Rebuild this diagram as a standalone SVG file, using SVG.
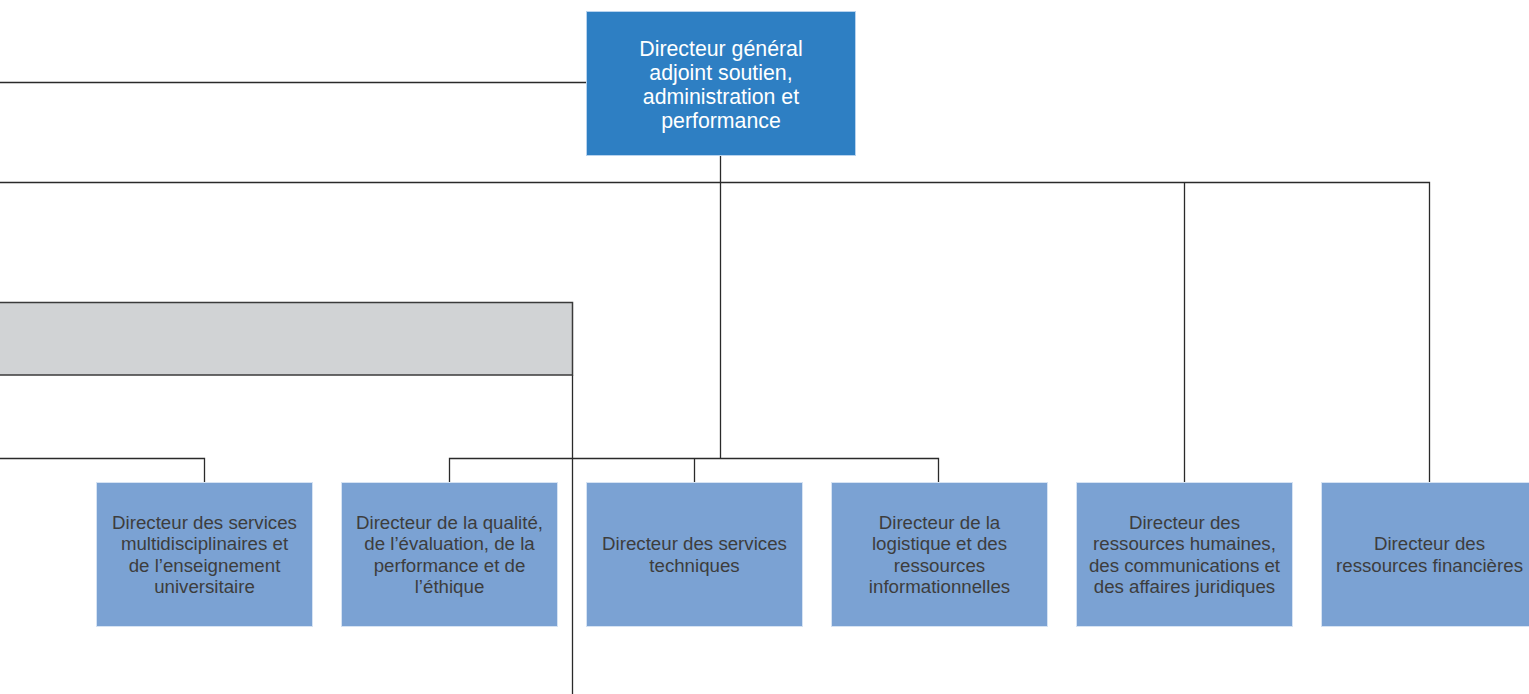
<svg xmlns="http://www.w3.org/2000/svg" width="1529" height="694" viewBox="0 0 1529 694">
<style>
.ln{stroke:#2a2a2a;stroke-width:1.3;fill:none}
.top{fill:#2e7fc3;stroke:#b8d3ee;stroke-width:1}
.sub{fill:#7ba2d3;stroke:#d6e3f3;stroke-width:1}
.gray{fill:#d1d3d5;stroke:#3a3a3a;stroke-width:1.5}
.tw{font-family:"Liberation Sans",Arial,sans-serif;font-size:21.3px;fill:#ffffff;text-anchor:middle}
.tb{font-family:"Liberation Sans",Arial,sans-serif;font-size:18.7px;fill:#3d3d3d;text-anchor:middle}
</style>
<rect width="1529" height="694" fill="#ffffff"/>
<g id="connectors">
<path class="ln" d="M0 82.5H586"/>
<path class="ln" d="M720.5 155V458"/>
<path class="ln" d="M0 182.5H1429.5V482"/>
<path class="ln" d="M1184.5 182.5V482"/>
<path class="ln" d="M0 458.5H204.5V482"/>
<path class="ln" d="M449.5 482V458.5H938.5V482"/>
<path class="ln" d="M694.5 458.5V482"/>
<path class="ln" d="M572.5 375V694"/>
</g>
<g id="gray-bar">
<rect class="gray" x="-2" y="302.5" width="574.5" height="72.5"/>
</g>
<g id="dga">
<rect class="top" x="586.5" y="11.5" width="269" height="144"/>
<text class="tw" x="721" y="55.5">Directeur général</text>
<text class="tw" x="721" y="79.5">adjoint soutien,</text>
<text class="tw" x="721" y="104">administration et</text>
<text class="tw" x="721" y="127.5">performance</text>
</g>
<g id="multidisciplinaires">
<rect class="sub" x="96.5" y="482.5" width="216" height="144"/>
<text class="tb" x="204.5" y="528.5">Directeur des services</text>
<text class="tb" x="204.5" y="550">multidisciplinaires et</text>
<text class="tb" x="204.5" y="571.5">de l’enseignement</text>
<text class="tb" x="204.5" y="593">universitaire</text>
</g>
<g id="qualite">
<rect class="sub" x="341.5" y="482.5" width="216" height="144"/>
<text class="tb" x="449.5" y="528.5">Directeur de la qualité,</text>
<text class="tb" x="449.5" y="550">de l’évaluation, de la</text>
<text class="tb" x="449.5" y="571.5">performance et de</text>
<text class="tb" x="449.5" y="593">l’éthique</text>
</g>
<g id="techniques">
<rect class="sub" x="586.5" y="482.5" width="216" height="144"/>
<text class="tb" x="694.5" y="550">Directeur des services</text>
<text class="tb" x="694.5" y="571.5">techniques</text>
</g>
<g id="logistique">
<rect class="sub" x="831.5" y="482.5" width="216" height="144"/>
<text class="tb" x="939.5" y="528.5">Directeur de la</text>
<text class="tb" x="939.5" y="550">logistique et des</text>
<text class="tb" x="939.5" y="571.5">ressources</text>
<text class="tb" x="939.5" y="593">informationnelles</text>
</g>
<g id="rh">
<rect class="sub" x="1076.5" y="482.5" width="216" height="144"/>
<text class="tb" x="1184.5" y="528.5">Directeur des</text>
<text class="tb" x="1184.5" y="550">ressources humaines,</text>
<text class="tb" x="1184.5" y="571.5">des communications et</text>
<text class="tb" x="1184.5" y="593">des affaires juridiques</text>
</g>
<g id="financieres">
<rect class="sub" x="1321.5" y="482.5" width="216" height="144"/>
<text class="tb" x="1429.5" y="550">Directeur des</text>
<text class="tb" x="1429.5" y="571.5">ressources financières</text>
</g>
</svg>
